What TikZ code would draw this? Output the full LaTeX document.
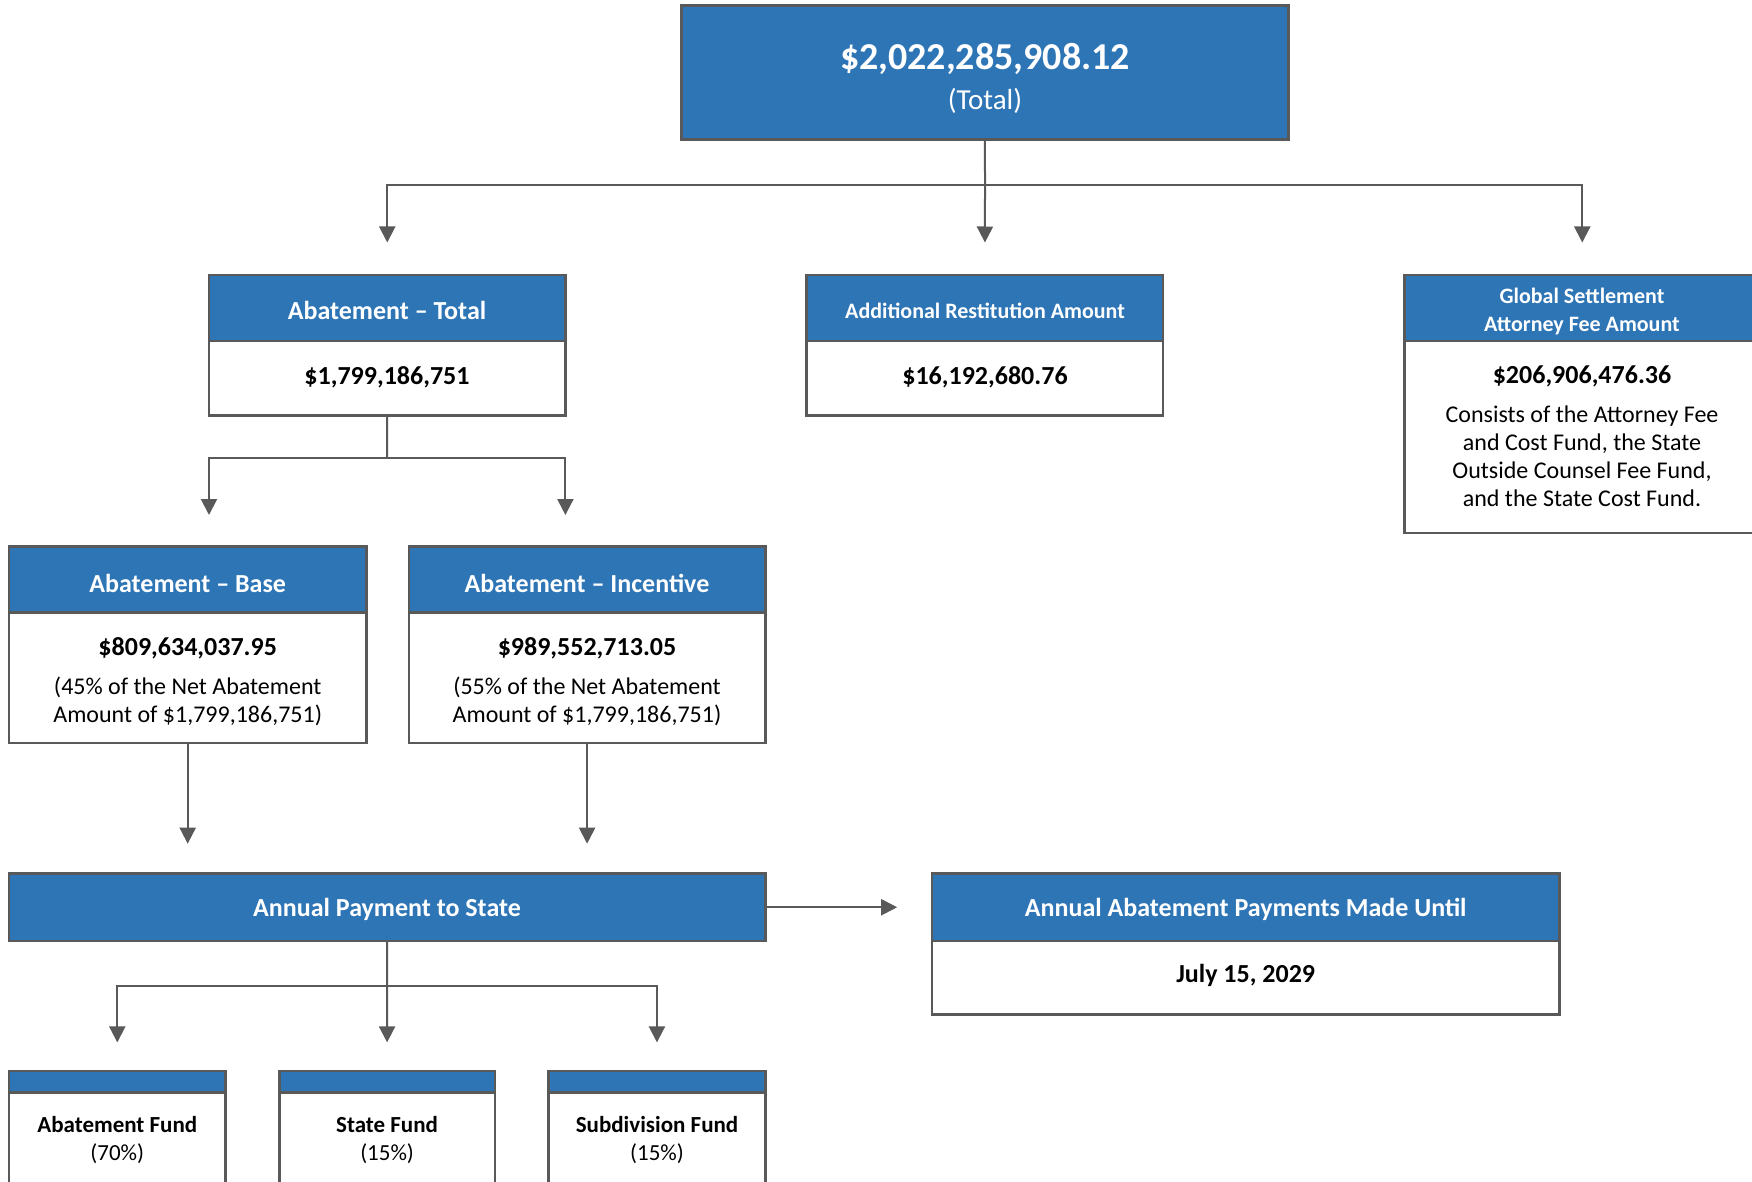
\documentclass[tikz,border=0pt]{standalone}
\usepackage{fontspec}
\setmainfont{Carlito}
\usetikzlibrary{arrows.meta}
\definecolor{hblue}{HTML}{2E75B6}
\definecolor{bordc}{HTML}{595959}
\definecolor{linec}{HTML}{595959}
\tikzset{
  boxbody/.style={draw=bordc, line width=2.5pt, fill=white, inner sep=0pt, outer sep=0pt, anchor=north west},
  boxhead/.style={draw=bordc, line width=2.5pt, fill=hblue, inner sep=0pt, outer sep=0pt, anchor=north west},
  txt/.style={inner sep=0pt, yshift=-2.5pt},
  htext/.style={txt, text=white, font=\bfseries\fontsize{26}{31}\selectfont, align=center},
  hsmall/.style={txt, text=white, font=\bfseries\fontsize{22}{28}\selectfont, align=center},
  amt/.style={txt, font=\bfseries\fontsize{26}{31}\selectfont},
  desc/.style={txt, font=\fontsize{24}{28}\selectfont, align=center},
  fundtext/.style={txt, font=\fontsize{23}{28}\selectfont, align=center},
  conn/.style={draw=linec, line width=2pt},
  arr/.style={draw=linec, line width=2pt, -{Triangle[length=16pt,width=16pt]}},
}
\begin{document}
\begin{tikzpicture}[x=1pt,y=-1pt]
\clip (0,0) rectangle (1752,1182);
\fill[white] (0,0) rectangle (1752,1182);

% top box
\node[boxhead, minimum width=606.7pt, minimum height=134pt] (top) at (681.6,5.6) {};
\node[txt, text=white, font=\bfseries\fontsize{38}{44}\selectfont] (topamt) at (985,56) {\$2,022,285,908.12};
\node[txt, text=white, font=\fontsize{29}{34}\selectfont] (toptot) at (985,98) {(Total)};

% level 2
\node[boxbody, minimum width=356.5pt, minimum height=140.6pt] (at) at (209,275) {};
\node[boxhead, minimum width=356.5pt, minimum height=65.9pt] (atH) at (209,275) {};
\node[htext] (atT) at (387,308.4) {Abatement – Total};
\node[amt] (atA) at (387,374.3) {\$1,799,186,751};

\node[boxbody, minimum width=356.4pt, minimum height=140.6pt] (ar) at (806.7,275) {};
\node[boxhead, minimum width=356.4pt, minimum height=65.9pt] (arH) at (806.7,275) {};
\node[hsmall] (arT) at (985,308.4) {Additional Restitution Amount};
\node[amt] (arA) at (985,374.3) {\$16,192,680.76};

\node[boxbody, minimum width=355.5pt, minimum height=258pt] (gs) at (1404.5,275) {};
\node[boxhead, minimum width=355.5pt, minimum height=65.9pt] (gsH) at (1404.5,275) {};
\node[hsmall] (gsT) at (1582,309) {Global Settlement\\Attorney Fee Amount};
\node[amt] (gsA) at (1582,374.3) {\$206,906,476.36};
\node[desc] (gsD) at (1582,454) {Consists of the Attorney Fee\\and Cost Fund, the State\\Outside Counsel Fee Fund,\\and the State Cost Fund.};

% level 3
\node[boxbody, minimum width=357.6pt, minimum height=196.6pt] (base) at (8.9,546.4) {};
\node[boxhead, minimum width=357.6pt, minimum height=65.9pt] (baseH) at (8.9,546.4) {};
\node[htext] (baseT) at (187.7,581) {Abatement – Base};
\node[amt] (baseA) at (187.7,645.8) {\$809,634,037.95};
\node[desc] (baseD) at (187.7,699) {(45\% of the Net Abatement\\Amount of \$1,799,186,751)};

\node[boxbody, minimum width=356.4pt, minimum height=196.6pt] (inc) at (408.9,546.4) {};
\node[boxhead, minimum width=356.4pt, minimum height=65.9pt] (incH) at (408.9,546.4) {};
\node[htext] (incT) at (587,581) {Abatement – Incentive};
\node[amt] (incA) at (587,645.8) {\$989,552,713.05};
\node[desc] (incD) at (587,699) {(55\% of the Net Abatement\\Amount of \$1,799,186,751)};

% annual payment
\node[boxhead, minimum width=756.4pt, minimum height=67.1pt] (ap) at (8.9,873.7) {};
\node[htext] (apT) at (387,907.2) {Annual Payment to State};

\node[boxbody, minimum width=627.9pt, minimum height=140.8pt] (aap) at (931.8,873.7) {};
\node[boxhead, minimum width=627.9pt, minimum height=67.1pt] (aapH) at (931.8,873.7) {};
\node[htext] (aapT) at (1245.7,907.2) {Annual Abatement Payments Made Until};
\node[amt] (aapA) at (1245.7,973.2) {July 15, 2029};

% bottom funds
\node[boxbody, minimum width=216.8pt, minimum height=150pt] (af) at (8.9,1071) {};
\node[boxhead, minimum width=216.8pt, minimum height=21.7pt] (afH) at (8.9,1071) {};
\node[fundtext] (afT) at (117.3,1138) {\textbf{Abatement Fund}\\(70\%)};

\node[boxbody, minimum width=215.7pt, minimum height=150pt] (sf) at (279.3,1071) {};
\node[boxhead, minimum width=215.7pt, minimum height=21.7pt] (sfH) at (279.3,1071) {};
\node[fundtext] (sfT) at (387.1,1138) {\textbf{State Fund}\\(15\%)};

\node[boxbody, minimum width=216.7pt, minimum height=150pt] (sdf) at (548.6,1071) {};
\node[boxhead, minimum width=216.7pt, minimum height=21.7pt] (sdfH) at (548.6,1071) {};
\node[fundtext] (sdfT) at (657,1138) {\textbf{Subdivision Fund}\\(15\%)};

% connectors
\coordinate (j1) at (985,185.5);
\draw[conn] (top.south) -- (j1);
\draw[arr, shorten >=32.5pt] (j1) -| (atH.north);
\draw[arr, shorten >=32.5pt] (j1) -- (arH.north);
\draw[arr, shorten >=32.5pt] (j1) -| (gsH.north);

\coordinate (j2) at (387,458);
\coordinate (t2a) at (209,515);
\coordinate (t2b) at (565.4,515);
\draw[conn] (at.south) -- (j2);
\draw[arr] (j2) -| (t2a);
\draw[arr] (j2) -| (t2b);

\draw[arr, shorten >=30pt] (base.south) -- (base.south |- ap.north);
\draw[arr, shorten >=30pt] (inc.south) -- (inc.south |- ap.north);

\draw[arr, shorten >=34.6pt] (ap.east) -- (aapH.west);

\coordinate (j3) at (387,985.5);
\draw[conn] (ap.south) -- (j3);
\draw[arr, shorten >=28.6pt] (j3) -| (afH.north);
\draw[arr, shorten >=28.6pt] (j3) -- (sfH.north);
\draw[arr, shorten >=28.6pt] (j3) -| (sdfH.north);
\end{tikzpicture}
\end{document}
